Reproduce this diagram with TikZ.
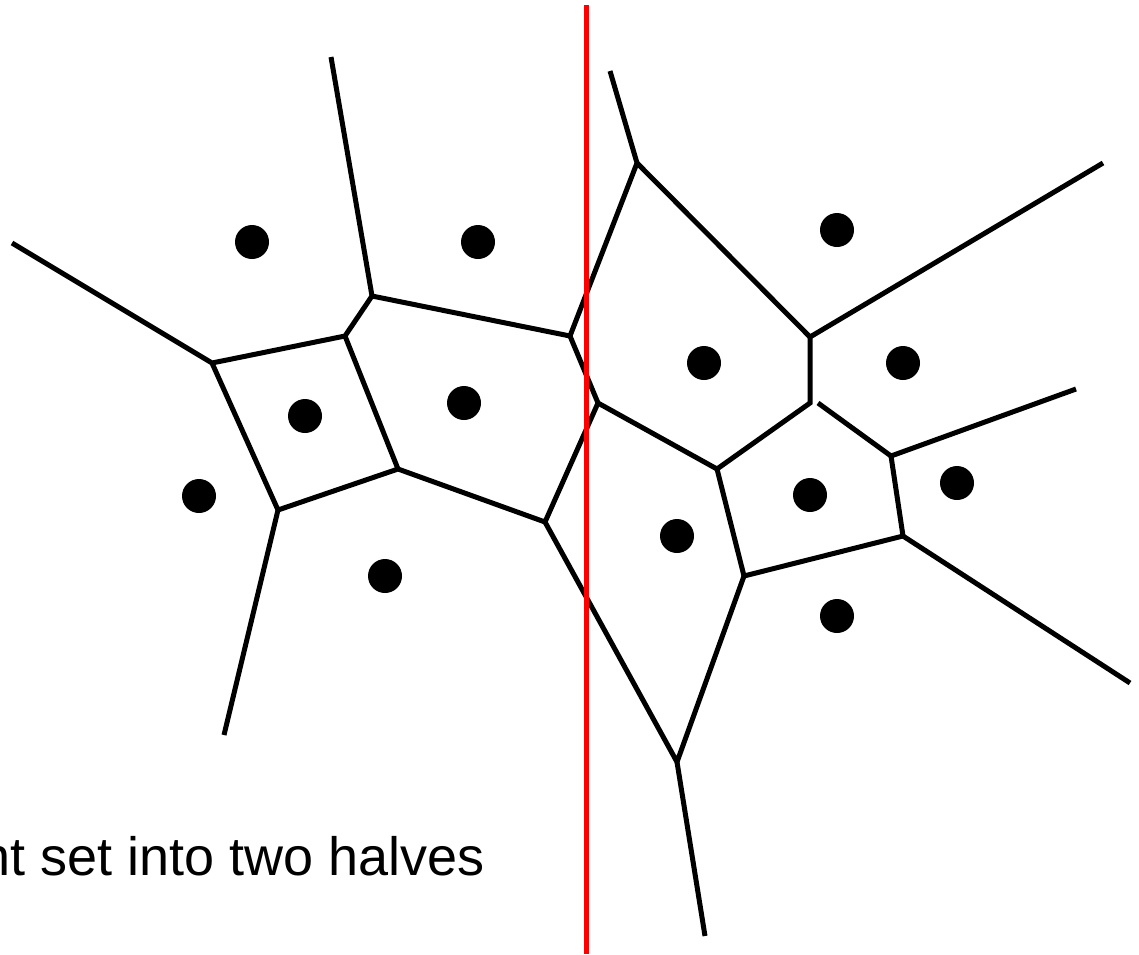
\documentclass[tikz,border=0pt]{standalone}
\usepackage{fontspec}
\setmainfont{Liberation Sans}
\begin{document}
\begin{tikzpicture}[x=1pt,y=-1pt,
  edge/.style={draw=black,line width=5pt},
  site/.style={circle,fill=black,inner sep=0pt,minimum size=34pt},
  cut/.style={draw=red,line width=5pt}]
\useasboundingbox (0,0) rectangle (1139,954);
\clip (0,0) rectangle (1139,954);
% sites
\node[site] (s1) at (252,242) {};
\node[site] (s2) at (478,242) {};
\node[site] (s3) at (305,416) {};
\node[site] (s4) at (464,403) {};
\node[site] (s5) at (199,496) {};
\node[site] (s6) at (385,576) {};
\node[site] (s7) at (837,230) {};
\node[site] (s8) at (704,363) {};
\node[site] (s9) at (903,363) {};
\node[site] (s10) at (677,536) {};
\node[site] (s11) at (810,495) {};
\node[site] (s12) at (957,483) {};
\node[site] (s13) at (837,616) {};
% vertices
\coordinate (A) at (212,363);
\coordinate (B) at (345,336);
\coordinate (C) at (372,296);
\coordinate (D) at (570,336);
\coordinate (E) at (598,403);
\coordinate (F) at (545,522);
\coordinate (G) at (398,469);
\coordinate (H) at (278,510);
\coordinate (P) at (637,163);
\coordinate (Q) at (810,337);
\coordinate (R) at (810,403);
\coordinate (R2) at (818,403);
\coordinate (S) at (717,469);
\coordinate (T) at (891,456);
\coordinate (U) at (744,576);
\coordinate (V) at (903,536);
\coordinate (W) at (677,762);
% ray ends
\coordinate (rA) at (12,243);
\coordinate (rC) at (331,57);
\coordinate (rH) at (224,735);
\coordinate (rP) at (610,71);
\coordinate (rQ) at (1103,163);
\coordinate (rT) at (1076,389);
\coordinate (rV) at (1130,683);
\coordinate (rW) at (705,936);
% edges
\draw[edge] (rA) -- (A) -- (B) -- (C) -- (D) -- (E) -- (F) -- (G) -- (H) -- (A);
\draw[edge] (rC) -- (C);
\draw[edge] (B) -- (G);
\draw[edge] (H) -- (rH);
\draw[edge] (D) -- (P) -- (rP);
\draw[edge] (P) -- (Q) -- (rQ);
\draw[edge] (Q) -- (R) -- (S) -- (E);
\draw[edge] (R2) -- (T) -- (rT);
\draw[edge] (S) -- (U) -- (V) -- (T);
\draw[edge] (V) -- (rV);
\draw[edge] (F) -- (W) -- (U);
\draw[edge] (W) -- (rW);
% dividing line
\coordinate (cutTop) at (586,5);
\coordinate (cutBot) at (586,954);
\draw[cut] (cutTop) -- (cutBot);
% caption
\node[anchor=base east,inner sep=0pt,font=\fontsize{54}{60}\selectfont] (cap) at (485,875) {nt set into two halves};
\end{tikzpicture}
\end{document}
